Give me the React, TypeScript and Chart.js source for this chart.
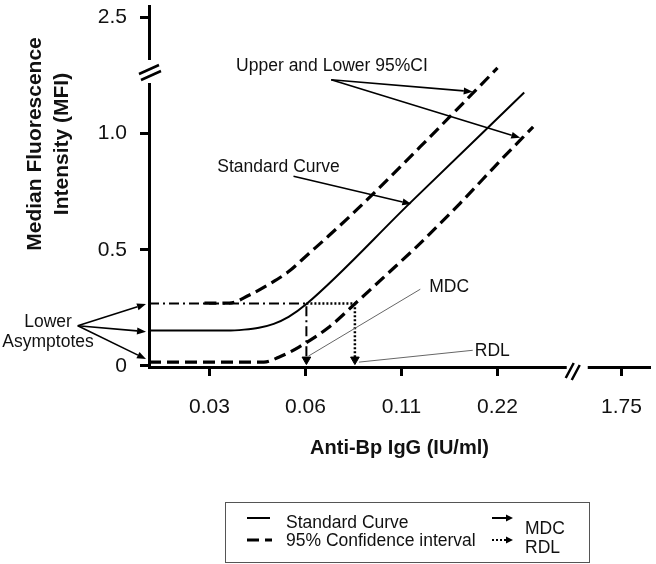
import React, { useEffect, useRef } from 'react';
import { Chart, registerables } from 'chart.js';

Chart.register(...registerables);

const FONT = '"Liberation Sans", Arial, Helvetica, sans-serif';
const INK = '#111111';

// Schematic concentration axis: evenly spaced slots, the last one sits past the axis break.
const xTickSlots = [1, 2, 3, 4, 5.29];
const xTickLabels = ['0.03', '0.06', '0.11', '0.22', '1.75'];
// Broken MFI axis: the top slot is labelled 2.5.
const yTickValues = [0, 0.5, 1.0, 1.5];
const yTickLabels = ['0', '0.5', '1.0', '2.5'];

// Standard curve (solid)
const standardX = [0.371, 1.186, 1.361, 1.515, 1.67, 1.825, 2.01, 3.093, 4.278];
const standardY = [0.152, 0.152, 0.156, 0.164, 0.181, 0.211, 0.266, 0.703, 1.177];
// Upper 95% CI (dashed)
const upperX = [0.948, 1.206, 1.412, 1.619, 1.825, 2.031, 2.237, 2.546, 3.196, 4.0];
const upperY = [0.27, 0.27, 0.304, 0.351, 0.406, 0.482, 0.558, 0.677, 0.944, 1.283];
// Lower 95% CI (dashed)
const lowerX = [0.371, 1.567, 1.722, 1.928, 2.237, 2.546, 2.856, 3.165, 3.608, 4.041, 4.371];
const lowerY = [0.016, 0.016, 0.037, 0.08, 0.164, 0.279, 0.397, 0.516, 0.699, 0.889, 1.029];
// MDC construction (dash-dot) and RDL construction (dotted)
const mdcX = [0.371, 2.01, 2.01];
const mdcY = [0.268, 0.268, 0.027];
const rdlX = [2.01, 2.515, 2.515];
const rdlY = [0.268, 0.268, 0.027];

// Callouts in data units
const calloutTexts = [
  { text: 'Upper and Lower 95%CI', x: 1.278, y: 1.292 },
  { text: 'Standard Curve', x: 1.082, y: 0.855 },
  { text: 'MDC', x: 3.289, y: 0.339 },
  { text: 'RDL', x: 3.763, y: 0.063 },
];
const asymptoteText = { lines: ['Lower', 'Asymptotes'], x: -0.68, y: [0.186, 0.101] };
const calloutArrows = [
  { x1: 2.268, y1: 1.232, x2: 3.742, y2: 1.181 },
  { x1: 2.268, y1: 1.232, x2: 4.237, y2: 0.982 },
  { x1: 1.876, y1: 0.817, x2: 3.103, y2: 0.697 },
  { x1: -0.371, y1: 0.173, x2: 0.34, y2: 0.266 },
  { x1: -0.371, y1: 0.173, x2: 0.34, y2: 0.147 },
  { x1: -0.371, y1: 0.173, x2: 0.34, y2: 0.029 },
];
const calloutLeaders = [
  { x1: 3.196, y1: 0.33, x2: 2.031, y2: 0.042 },
  { x1: 3.742, y1: 0.067, x2: 2.557, y2: 0.016 },
];
const yBreakValue = 1.27;
const xBreakValue = 4.825;

const pts = (xs: number[], ys: number[]) => xs.map((x, i) => ({ x, y: ys[i] }));

function drawArrow(ctx: CanvasRenderingContext2D, x1: number, y1: number, x2: number, y2: number, head = 9, half = 3.5) {
  const a = Math.atan2(y2 - y1, x2 - x1);
  const bx = x2 - head * Math.cos(a);
  const by = y2 - head * Math.sin(a);
  ctx.beginPath();
  ctx.moveTo(x1, y1);
  ctx.lineTo(bx, by);
  ctx.stroke();
  ctx.beginPath();
  ctx.moveTo(x2, y2);
  ctx.lineTo(bx + half * Math.sin(a), by - half * Math.cos(a));
  ctx.lineTo(bx - half * Math.sin(a), by + half * Math.cos(a));
  ctx.closePath();
  ctx.fill();
}

const decorPlugin = {
  id: 'decor',
  afterDraw(chart: any) {
    const ctx: CanvasRenderingContext2D = chart.ctx;
    const xs = chart.scales.x;
    const ys = chart.scales.y;
    const area = chart.chartArea;
    const px = (v: number) => xs.getPixelForValue(v);
    const py = (v: number) => ys.getPixelForValue(v);
    ctx.save();

    // Axis breaks
    const yb = py(yBreakValue);
    ctx.fillStyle = '#fff';
    ctx.fillRect(area.left - 5, yb - 11, 10, 23);
    const xb = px(xBreakValue);
    ctx.fillRect(xb - 10, area.bottom - 4, 21, 8);
    ctx.strokeStyle = '#000';
    ctx.lineWidth = 2.5;
    ctx.beginPath();
    ctx.moveTo(area.left - 10, yb + 3);
    ctx.lineTo(area.left + 10, yb - 6);
    ctx.moveTo(area.left - 8, yb + 9);
    ctx.lineTo(area.left + 12, yb);
    ctx.moveTo(xb - 11, area.bottom + 11);
    ctx.lineTo(xb - 3, area.bottom - 4);
    ctx.moveTo(xb - 5, area.bottom + 13);
    ctx.lineTo(xb + 3, area.bottom - 2);
    ctx.stroke();

    // Y axis title
    ctx.fillStyle = INK;
    ctx.font = `bold 21px ${FONT}`;
    ctx.textAlign = 'center';
    ctx.textBaseline = 'middle';
    const midY = 144;
    ['Median Fluorescence', 'Intensity (MFI)'].forEach((t, i) => {
      ctx.save();
      ctx.translate(35 + i * 27, midY);
      ctx.rotate(-Math.PI / 2);
      ctx.fillText(t, 0, 0);
      ctx.restore();
    });

    // Callouts
    ctx.font = `17.5px ${FONT}`;
    ctx.textAlign = 'left';
    calloutTexts.forEach((c) => ctx.fillText(c.text, px(c.x), py(c.y)));
    ctx.textAlign = 'center';
    asymptoteText.lines.forEach((t, i) => ctx.fillText(t, px(asymptoteText.x), py(asymptoteText.y[i])));
    ctx.strokeStyle = '#000';
    ctx.fillStyle = '#000';
    ctx.lineWidth = 1.6;
    calloutArrows.forEach((a) => drawArrow(ctx, px(a.x1), py(a.y1), px(a.x2), py(a.y2)));
    ctx.strokeStyle = '#666';
    ctx.lineWidth = 1;
    calloutLeaders.forEach((l) => {
      ctx.beginPath();
      ctx.moveTo(px(l.x1), py(l.y1));
      ctx.lineTo(px(l.x2), py(l.y2));
      ctx.stroke();
    });

    // Legend box
    ctx.strokeStyle = '#555';
    ctx.lineWidth = 1;
    ctx.strokeRect(225.5, 502.5, 364, 60);
    ctx.strokeStyle = '#000';
    ctx.fillStyle = '#000';
    ctx.lineWidth = 2;
    ctx.beginPath();
    ctx.moveTo(247, 518);
    ctx.lineTo(270, 518);
    ctx.stroke();
    ctx.lineWidth = 3;
    ctx.beginPath();
    ctx.moveTo(247, 540);
    ctx.lineTo(259, 540);
    ctx.moveTo(265, 540);
    ctx.lineTo(272, 540);
    ctx.stroke();
    ctx.lineWidth = 2;
    drawArrow(ctx, 492, 518, 513, 518, 7, 3.5);
    ctx.setLineDash([2, 2]);
    ctx.beginPath();
    ctx.moveTo(492, 540);
    ctx.lineTo(507, 540);
    ctx.stroke();
    ctx.setLineDash([]);
    drawArrow(ctx, 507, 540, 513, 540, 7, 3.5);
    ctx.fillStyle = INK;
    ctx.font = `17.5px ${FONT}`;
    ctx.textAlign = 'left';
    ctx.textBaseline = 'middle';
    ctx.fillText('Standard Curve', 286, 523);
    ctx.fillText('95% Confidence interval', 286, 541);
    ctx.fillText('MDC', 525, 529);
    ctx.fillText('RDL', 525, 548);
    ctx.restore();
  },
};

export default function App() {
  const ref = useRef<HTMLCanvasElement | null>(null);
  useEffect(() => {
    if (!ref.current) return;
    const solid = { borderColor: '#000', borderWidth: 2, pointRadius: 0, cubicInterpolationMode: 'monotone' as const };
    const dashed = { borderColor: '#000', borderWidth: 3.2, borderDash: [12, 6], pointRadius: 0, cubicInterpolationMode: 'monotone' as const };
    const arrowPts = { pointRadius: [0, 0, 5], pointStyle: 'triangle', pointRotation: 180, pointBackgroundColor: '#000', pointBorderColor: '#000', pointBorderWidth: 1 };
    const chart = new Chart(ref.current, {
      type: 'line',
      data: {
        datasets: [
          { label: 'Standard Curve', data: pts(standardX, standardY), ...solid },
          { label: 'Upper 95% CI', data: pts(upperX, upperY), ...dashed },
          { label: 'Lower 95% CI', data: pts(lowerX, lowerY), ...dashed },
          { label: 'MDC', data: pts(mdcX, mdcY), borderColor: '#000', borderWidth: 2, borderDash: [10, 4, 2, 4], tension: 0, ...arrowPts },
          { label: 'RDL', data: pts(rdlX, rdlY), borderColor: '#000', borderWidth: 2.5, borderDash: [2, 2], tension: 0, ...arrowPts },
        ] as any,
      },
      options: {
        animation: false,
        responsive: false,
        events: [],
        layout: { padding: { left: 0, top: 0, right: 1, bottom: 87 } },
        plugins: { legend: { display: false }, tooltip: { enabled: false } },
        scales: {
          x: {
            type: 'linear',
            min: 0.371,
            max: 5.588,
            afterBuildTicks: (s: any) => {
              s.ticks = xTickSlots.map((v) => ({ value: v }));
            },
            afterFit: (s: any) => {
              s.height = 110;
              s.paddingLeft = 0;
              s.paddingRight = 0;
            },
            ticks: {
              autoSkip: false,
              maxRotation: 0,
              padding: 19,
              color: INK,
              font: { family: FONT, size: 21 },
              callback: (_v: any, i: number) => xTickLabels[i],
            },
            grid: { display: true, drawOnChartArea: false, tickLength: 9, tickWidth: 3, tickColor: '#000' },
            border: { display: true, width: 3, color: '#000' },
            title: {
              display: true,
              text: 'Anti-Bp IgG (IU/ml)',
              color: INK,
              font: { family: FONT, size: 20, weight: 'bold' },
              padding: { top: 0, bottom: 17 },
            },
          },
          y: {
            type: 'linear',
            min: -0.005,
            max: 1.55,
            afterBuildTicks: (s: any) => {
              s.ticks = yTickValues.map((v) => ({ value: v }));
            },
            afterFit: (s: any) => {
              s.width = 149;
              s.paddingTop = 0;
              s.paddingBottom = 0;
            },
            ticks: {
              autoSkip: false,
              padding: 13,
              color: INK,
              font: { family: FONT, size: 21 },
              callback: (_v: any, i: number) => yTickLabels[i],
            },
            grid: { display: true, drawOnChartArea: false, tickLength: 9, tickWidth: 3, tickColor: '#000' },
            border: { display: true, width: 3, color: '#000' },
          },
        },
      } as any,
      plugins: [decorPlugin],
    });
    return () => chart.destroy();
  }, []);
  return (
    <div style={{ position: 'absolute', left: 0, top: 0, width: 656, height: 564, background: '#fff' }}>
      <canvas ref={ref} width={656} height={564} />
    </div>
  );
}
